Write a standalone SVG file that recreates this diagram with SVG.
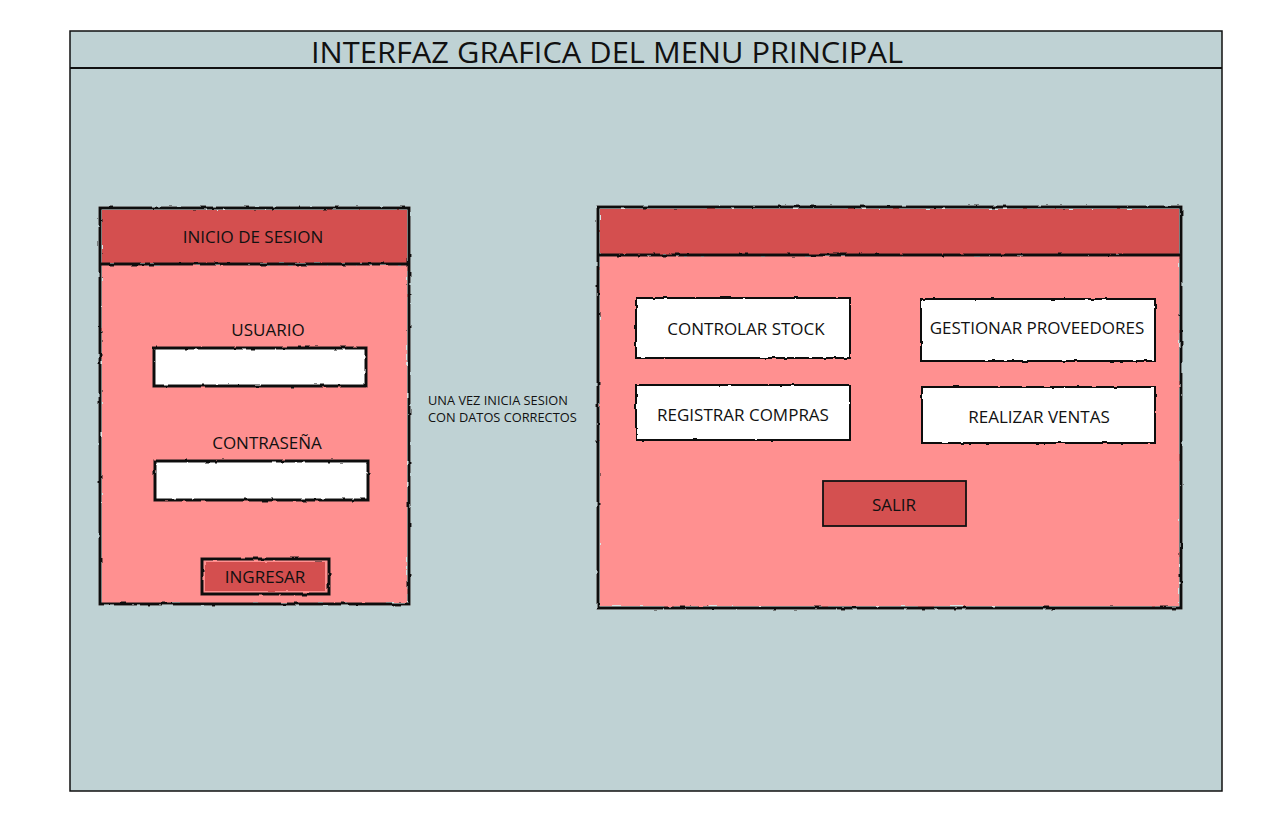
<svg xmlns="http://www.w3.org/2000/svg" width="1276" height="814" viewBox="0 0 1276 814">
<defs>
<filter id="rough" filterUnits="userSpaceOnUse" x="0" y="0" width="1276" height="814">
<feTurbulence type="fractalNoise" baseFrequency="0.08" numOctaves="2" seed="3" result="n"/>
<feDisplacementMap in="SourceGraphic" in2="n" scale="2.5" xChannelSelector="R" yChannelSelector="G"/>
</filter>
<filter id="halo" filterUnits="userSpaceOnUse" x="0" y="0" width="1276" height="814">
<feTurbulence type="fractalNoise" baseFrequency="0.1" numOctaves="2" seed="7" result="n"/>
<feDisplacementMap in="SourceGraphic" in2="n" scale="2.5" xChannelSelector="R" yChannelSelector="G" result="d"/>
<feGaussianBlur in="d" stdDeviation="0.5"/>
</filter>
</defs>
<style>
text{font-family:"Open Sans","Noto Sans","Liberation Sans",sans-serif;fill:#111;}
.lbl{font-size:17px;text-anchor:middle;}
.small{font-size:12.8px;}
.frame{fill:none;stroke:#111;stroke-width:1.5;}
.thick{fill:none;stroke:#111;stroke-width:3;filter:url(#halo);}
.mid{fill:none;stroke:#111;stroke-width:2;filter:url(#halo);}
.red{fill:#d45050;}
.pink{fill:#ff9090;}
.white{fill:#fff;}
.halo{fill:none;stroke:#e8eeee;stroke-width:6;opacity:0.7;filter:url(#halo);}
.div{stroke:#111;stroke-width:3;filter:url(#halo);}
</style>
<rect x="0" y="0" width="1276" height="814" fill="#fff"/>

<g id="main-frame">
<rect x="70" y="31" width="1152" height="760" fill="#bfd2d4"/>
<rect x="70" y="31" width="1152" height="760" class="frame"/>
<line x1="70" y1="68" x2="1222" y2="68" stroke="#111" stroke-width="1.8"/>
<text x="607" y="63" font-size="30" text-anchor="middle" textLength="592" lengthAdjust="spacingAndGlyphs">INTERFAZ GRAFICA DEL MENU PRINCIPAL</text>
</g>

<g id="login-panel">
<rect x="101" y="209" width="307" height="394" class="halo"/>
<rect x="102" y="210" width="305" height="53" class="red" filter="url(#rough)"/>
<rect x="102" y="265" width="305" height="338" class="pink" filter="url(#rough)"/>
<rect x="100" y="208" width="309" height="396" class="thick"/>
<line x1="100" y1="264" x2="409" y2="264" class="div"/>
<text x="253" y="243" class="lbl">INICIO DE SESION</text>
</g>

<g id="usuario">
<text x="268" y="336" class="lbl">USUARIO</text>
<rect x="154" y="348" width="212" height="38" class="white" filter="url(#rough)"/>
<rect x="154" y="348" width="212" height="38" class="thick"/>
</g>

<g id="contrasena">
<text x="267" y="449" class="lbl">CONTRASEÑA</text>
<rect x="155" y="461" width="213" height="39" class="white" filter="url(#rough)"/>
<rect x="155" y="461" width="213" height="39" class="thick"/>
</g>

<g id="ingresar">
<rect x="205" y="562" width="120" height="29" class="red" filter="url(#rough)"/>
<rect x="202" y="559" width="127" height="35" class="thick"/>
<text x="265" y="583" class="lbl">INGRESAR</text>
</g>

<g id="nota">
<text x="428" y="405" class="small">UNA VEZ INICIA SESION</text>
<text x="428" y="422" class="small">CON DATOS CORRECTOS</text>
</g>

<g id="menu-panel">
<rect x="599" y="208" width="581" height="399" class="halo"/>
<rect x="600" y="209" width="579" height="46" class="red" filter="url(#rough)"/>
<rect x="600" y="256" width="579" height="350" class="pink" filter="url(#rough)"/>
<rect x="598" y="207" width="583" height="401" class="thick"/>
<line x1="598" y1="255" x2="1181" y2="255" class="div"/>
</g>

<g id="controlar-stock">
<rect x="636" y="298" width="214" height="60" class="white"/>
<rect x="636" y="298" width="214" height="60" class="mid"/>
<text x="746" y="335" class="lbl">CONTROLAR STOCK</text>
</g>

<g id="gestionar-proveedores">
<rect x="921" y="299" width="234" height="62" class="white"/>
<rect x="921" y="299" width="234" height="62" class="mid"/>
<text x="1037" y="334" class="lbl">GESTIONAR PROVEEDORES</text>
</g>

<g id="registrar-compras">
<rect x="636" y="385" width="214" height="55" class="white"/>
<rect x="636" y="385" width="214" height="55" class="mid"/>
<text x="743" y="421" class="lbl">REGISTRAR COMPRAS</text>
</g>

<g id="realizar-ventas">
<rect x="922" y="387" width="233" height="56" class="white"/>
<rect x="922" y="387" width="233" height="56" class="mid"/>
<text x="1039" y="423" class="lbl">REALIZAR VENTAS</text>
</g>

<g id="salir">
<rect x="823" y="481" width="143" height="45" class="red"/>
<rect x="823" y="481" width="143" height="45" fill="none" stroke="#111" stroke-width="1.8"/>
<text x="894" y="511" class="lbl">SALIR</text>
</g>

<g id="connectors"></g>
</svg>
